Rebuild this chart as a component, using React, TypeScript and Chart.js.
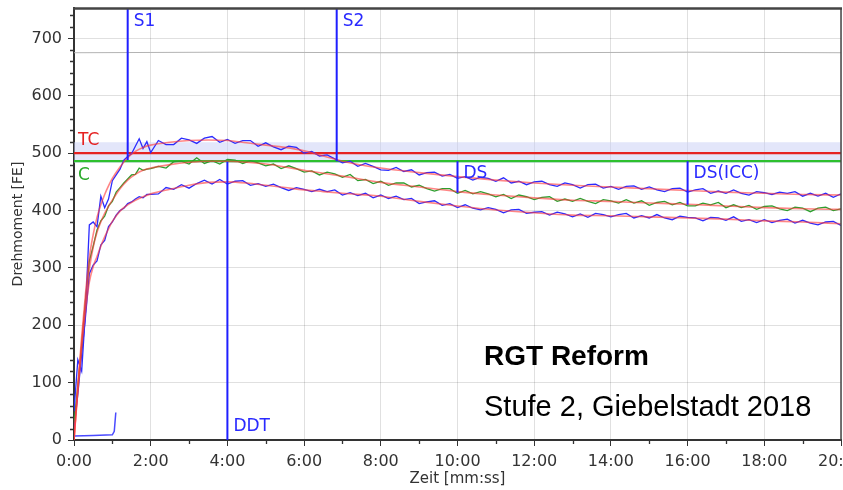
import React, { useEffect, useRef } from 'react';
import { Chart, registerables } from 'chart.js';

Chart.register(...registerables);

// ---------- axis ticks ----------
const xTicks = [0, 2, 4, 6, 8, 10, 12, 14, 16, 18, 20];
const xMinorTicks = [1, 3, 5, 7, 9, 11, 13, 15, 17, 19];
const yTicks = [0, 100, 200, 300, 400, 500, 600, 700];
const yMinorTicks = [20, 40, 60, 80, 120, 140, 160, 180, 220, 240, 260, 280, 320, 340, 360, 380, 420, 440, 460, 480, 520, 540, 560, 580, 620, 640, 660, 680, 720, 740];

// ---------- measured traces (time in minutes) ----------
const traceT = [
  0, 0.1, 0.2, 0.3, 0.4, 0.5, 0.6, 0.7, 0.8, 0.9, 1.0, 1.1, 1.2, 1.3, 1.4, 1.5, 1.6, 1.7, 1.8, 1.9, 2.0,
  2.2, 2.4, 2.6, 2.8, 3.0, 3.2, 3.4, 3.6, 3.8, 4.0,
  4.2, 4.4, 4.6, 4.8, 5.0, 5.2, 5.4, 5.6, 5.8, 6.0,
  6.2, 6.4, 6.6, 6.8, 7.0, 7.2, 7.4, 7.6, 7.8, 8.0,
  8.2, 8.4, 8.6, 8.8, 9.0, 9.2, 9.4, 9.6, 9.8, 10.0,
  10.2, 10.4, 10.6, 10.8, 11.0, 11.2, 11.4, 11.6, 11.8, 12.0,
  12.2, 12.4, 12.6, 12.8, 13.0, 13.2, 13.4, 13.6, 13.8, 14.0,
  14.2, 14.4, 14.6, 14.8, 15.0, 15.2, 15.4, 15.6, 15.8, 16.0,
  16.2, 16.4, 16.6, 16.8, 17.0, 17.2, 17.4, 17.6, 17.8, 18.0,
  18.2, 18.4, 18.6, 18.8, 19.0, 19.2, 19.4, 19.6, 19.8, 20.0,
];
const upperTrace = [
  50, 140, 120, 225, 375, 380, 372, 425, 405, 420, 452, 462, 472, 488, 494, 499, 512, 525, 508, 520, 501,
  522, 515, 515, 526, 523, 517, 526, 529, 519, 524,
  517, 522, 522, 512, 518, 511, 506, 512, 510, 500,
  503, 495, 497, 490, 483, 486, 477, 482, 477, 471,
  470, 475, 468, 471, 462, 466, 467, 460, 463, 456,
  459, 453, 458, 456, 451, 457, 448, 451, 445, 450,
  451, 445, 442, 448, 445, 439, 445, 446, 439, 442,
  437, 442, 443, 437, 441, 436, 433, 438, 439, 432,
  436, 438, 430, 434, 430, 436, 430, 427, 433, 431,
  428, 432, 430, 433, 425, 430, 425, 430, 423, 429,
];
const middleTrace = [
  30, 95, 165, 245, 312, 338, 366, 382, 390, 408, 416, 432, 440, 448, 455, 462, 463, 474, 470, 472, 473,
  477, 474, 485, 486, 481, 492, 482, 487, 481, 489,
  488, 482, 487, 483, 478, 481, 473, 478, 473, 467,
  469, 462, 467, 464, 458, 463, 452, 454, 447, 451,
  444, 448, 448, 441, 444, 438, 434, 438, 438, 430,
  435, 429, 433, 429, 424, 428, 421, 427, 424, 419,
  423, 424, 416, 420, 416, 421, 416, 412, 419, 417,
  413, 419, 413, 417, 409, 414, 416, 410, 414, 408,
  408, 413, 410, 414, 405, 410, 405, 409, 402, 407,
  408, 403, 400, 406, 404, 398, 404, 406, 400, 403,
];
const lowerTrace = [
  20, 80, 150, 215, 290, 305, 312, 340, 348, 372, 380, 392, 400, 404, 412, 415, 420, 424, 422, 428, 428,
  429, 440, 437, 445, 439, 447, 453, 446, 454, 446,
  451, 452, 444, 447, 442, 446, 440, 435, 440, 437,
  433, 437, 433, 436, 427, 431, 426, 430, 422, 427,
  421, 425, 419, 421, 412, 415, 417, 409, 412, 405,
  410, 404, 401, 405, 402, 396, 401, 402, 395, 397,
  398, 392, 397, 394, 389, 394, 388, 395, 393, 389,
  393, 395, 387, 391, 387, 393, 387, 384, 390, 388,
  387, 382, 388, 387, 383, 389, 381, 384, 379, 384,
  379, 383, 385, 378, 383, 378, 375, 380, 381, 374,
];

// ---------- smoothed fits ----------
const smoothT = [0, 0.1, 0.2, 0.3, 0.4, 0.5, 0.6, 0.7, 0.8, 0.9, 1.0, 1.2, 1.4, 1.6, 1.8, 2.0, 2.5, 3, 3.5, 4, 4.5, 5, 5.5, 6, 6.5, 7, 8, 9, 10, 11, 12, 13, 14, 15, 16, 17, 18, 19, 20];
const upperSmooth = [0, 95, 180, 255, 318, 358, 388, 410, 428, 443, 456, 476, 492, 503, 510, 514, 519, 522, 523, 522, 518, 514, 510, 504, 495, 486, 474, 466, 459, 453, 448, 444, 441, 438, 435, 432, 430, 428, 427];
const middleSmooth = [0, 90, 170, 240, 298, 336, 362, 380, 395, 407, 418, 438, 453, 463, 470, 474, 480, 484, 486, 486, 484, 481, 476, 470, 465, 460, 449, 441, 433, 427, 422, 418, 416, 413, 411, 408, 405, 403, 402];
const lowerSmooth = [0, 85, 160, 225, 275, 302, 320, 338, 354, 368, 381, 399, 410, 418, 424, 429, 437, 444, 449, 450, 448, 444, 440, 436, 433, 430, 425, 416, 408, 401, 396, 392, 391, 389, 387, 385, 382, 380, 377];

// ---------- other curves ----------
const startT = [0, 0.5, 1.0, 1.05, 1.09];
const startV = [7, 8, 9, 15, 48];
const grayT = [0, 4, 8, 12, 16, 20];
const grayV = [675, 676, 675, 675, 676, 675];

// ---------- reference levels ----------
const tcValue = 500;
const cValue = 486;
const bandLow = 483;
const bandHigh = 519;

// ---------- vertical markers ----------
const markerLabels = ['S1', 'S2', 'DDT', 'DS', 'DS(ICC)'];
const markerTimes = [1.4, 6.85, 4.0, 10.0, 16.0];
const markerTop = [753, 753, 485, 486, 486];
const markerBottom = [488, 486, 0, 431, 410];
const markerLabelLevel = [730, 730, 23, 465, 465];

const zip = (t: number[], v: number[]) => t.map((x, i) => ({ x, y: v[i] }));
const fmtTime = (v: number) => `${Math.round(v)}:00`;

const BLUE = '#2b2bff';
const GREEN = '#2e9e2e';
const RED_FIT = 'rgba(255,60,60,0.62)';
const TICK_FONT = { family: 'DejaVu Sans', size: 16 };
const TEXT = '#333333';

const decorPlugin = {
  id: 'decor',
  beforeDatasetsDraw(chart: any) {
    const { ctx, chartArea: a, scales } = chart;
    const y = scales.y;
    const yt = y.getPixelForValue(bandHigh);
    const yb = y.getPixelForValue(bandLow);
    ctx.save();
    ctx.fillStyle = 'rgba(200,206,246,0.5)';
    ctx.fillRect(a.left, yt, a.right - a.left, yb - yt);
    ctx.restore();
  },
  afterDatasetsDraw(chart: any) {
    const { ctx, chartArea: a, scales } = chart;
    const x = scales.x;
    const y = scales.y;
    ctx.save();
    ctx.textBaseline = 'middle';
    ctx.textAlign = 'left';
    ctx.font = '17px "DejaVu Sans"';
    ctx.fillStyle = '#2a2aff';
    markerLabels.forEach((lab, i) => {
      ctx.fillText(lab, x.getPixelForValue(markerTimes[i]) + 6, y.getPixelForValue(markerLabelLevel[i]));
    });
    ctx.fillStyle = '#e52222';
    ctx.fillText('TC', a.left + 4, y.getPixelForValue(tcValue) - 13);
    ctx.fillStyle = '#2aaa2a';
    ctx.fillText('C', a.left + 4, y.getPixelForValue(cValue) + 14);

    ctx.textBaseline = 'alphabetic';
    ctx.fillStyle = '#000';
    ctx.font = 'bold 28px "Liberation Sans", Arial, sans-serif';
    ctx.fillText('RGT Reform', 484, 365);
    ctx.font = '29px "Liberation Sans", Arial, sans-serif';
    ctx.fillText('Stufe 2, Giebelstadt 2018', 484, 416);
    ctx.restore();
  },
  afterDraw(chart: any) {
    const { ctx, chartArea: a, scales } = chart;
    const x = scales.x;
    const y = scales.y;
    ctx.save();
    ctx.strokeStyle = '#444';
    ctx.lineWidth = 2.5;
    ctx.beginPath();
    ctx.moveTo(a.left - 1, a.top + 0.5);
    ctx.lineTo(a.right + 1, a.top + 0.5);
    ctx.stroke();
    ctx.lineWidth = 1.5;
    ctx.beginPath();
    ctx.moveTo(a.right, a.top);
    ctx.lineTo(a.right, a.bottom);
    ctx.stroke();
    ctx.strokeStyle = '#333';
    ctx.lineWidth = 1.3;
    ctx.beginPath();
    xMinorTicks.forEach((v) => {
      const px = Math.round(x.getPixelForValue(v)) + 0.5;
      ctx.moveTo(px, a.bottom);
      ctx.lineTo(px, a.bottom + 4);
    });
    yMinorTicks.forEach((v) => {
      const py = Math.round(y.getPixelForValue(v)) + 0.5;
      ctx.moveTo(a.left, py);
      ctx.lineTo(a.left - 4, py);
    });
    ctx.stroke();
    ctx.restore();
  },
};

export default function App() {
  const ref = useRef<HTMLCanvasElement | null>(null);

  useEffect(() => {
    if (!ref.current) return;
    const line = (data: any[], color: string, width: number, order: number, extra: any = {}) => ({
      data,
      borderColor: color,
      borderWidth: width,
      pointRadius: 0,
      fill: false,
      tension: 0,
      order,
      ...extra,
    });

    const datasets: any[] = [
      line(zip(grayT, grayV), '#b3b3b3', 1, 20),
      line([{ x: 0, y: tcValue }, { x: 20, y: tcValue }], '#e52222', 2.2, 15),
      line([{ x: 0, y: cValue }, { x: 20, y: cValue }], '#2ec02e', 2.2, 15),
      line(zip(startT, startV), '#4a4aff', 1.5, 12),
      line(zip(traceT, upperTrace), BLUE, 1.3, 10),
      line(zip(traceT, middleTrace), GREEN, 1.3, 10),
      line(zip(traceT, lowerTrace), BLUE, 1.3, 10),
      line(zip(smoothT, upperSmooth), RED_FIT, 1.6, 8, { cubicInterpolationMode: 'monotone' }),
      line(zip(smoothT, middleSmooth), RED_FIT, 1.6, 8, { cubicInterpolationMode: 'monotone' }),
      line(zip(smoothT, lowerSmooth), RED_FIT, 1.6, 8, { cubicInterpolationMode: 'monotone' }),
      ...markerTimes.map((t, i) =>
        line([{ x: t, y: markerTop[i] }, { x: t, y: markerBottom[i] }], '#1f1fff', 2, 1)
      ),
    ];

    const chart = new Chart(ref.current, {
      type: 'line',
      data: { datasets },
      plugins: [decorPlugin],
      options: {
        animation: false,
        responsive: false,
        devicePixelRatio: 1,
        layout: { padding: { top: 8, right: 2, left: 0, bottom: 0 } },
        plugins: { legend: { display: false }, tooltip: { enabled: false } },
        scales: {
          x: {
            type: 'linear',
            min: 0,
            max: 20,
            afterBuildTicks: (s: any) => {
              s.ticks = xTicks.map((value) => ({ value }));
            },
            afterFit: (s: any) => {
              s.height = 50;
              s.paddingLeft = 0;
              s.paddingRight = 0;
            },
            ticks: {
              callback: (v: any) => fmtTime(Number(v)),
              color: TEXT,
              font: TICK_FONT,
              padding: 6,
              maxRotation: 0,
              autoSkip: false,
            },
            grid: { color: 'rgba(0,0,0,0.12)', lineWidth: 1, tickColor: '#333', tickLength: 6, drawTicks: true },
            border: { color: '#333', width: 2 },
            title: {
              display: true,
              text: 'Zeit [mm:ss]',
              color: TEXT,
              font: { family: 'DejaVu Sans', size: 15 },
              padding: { top: 0, bottom: 2 },
            },
          },
          y: {
            type: 'linear',
            min: 0,
            max: 753,
            afterBuildTicks: (s: any) => {
              s.ticks = yTicks.map((value) => ({ value }));
            },
            afterFit: (s: any) => {
              s.width = 74;
              s.paddingTop = 0;
              s.paddingBottom = 0;
            },
            ticks: { color: TEXT, font: TICK_FONT, padding: 6, autoSkip: false },
            grid: { color: 'rgba(0,0,0,0.12)', lineWidth: 1, tickColor: '#333', tickLength: 6, drawTicks: true },
            border: { color: '#333', width: 2 },
            title: {
              display: true,
              text: 'Drehmoment [FE]',
              color: TEXT,
              font: { family: 'DejaVu Sans', size: 14 },
              padding: { top: 10, bottom: 0 },
            },
          },
        },
      } as any,
    });
    return () => chart.destroy();
  }, []);

  return (
    <div style={{ position: 'fixed', left: 0, top: 0, width: 843, height: 490, background: '#fff' }}>
      <canvas ref={ref} width={843} height={490} style={{ display: 'block' }} />
    </div>
  );
}
